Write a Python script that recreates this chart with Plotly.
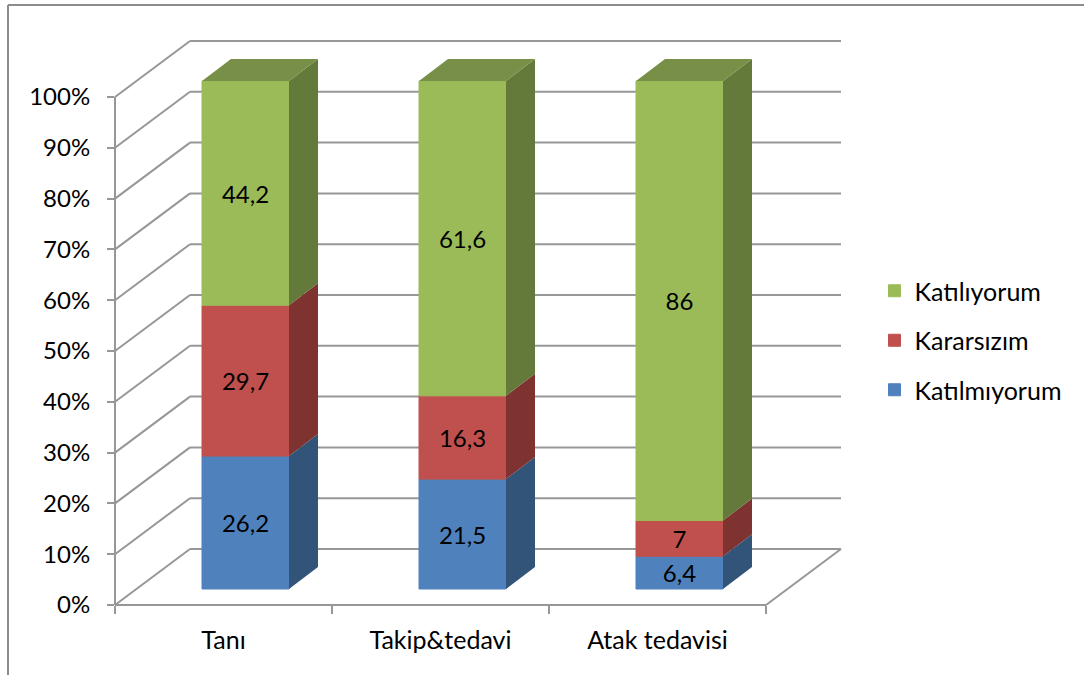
import plotly.graph_objects as go

categories = ["Tanı", "Takip&tedavi", "Atak tedavisi"]
katilmiyorum = [26.2, 21.5, 6.4]
kararsizim = [29.7, 16.3, 7]
katiliyorum = [44.2, 61.6, 86]
series_names = ["Katılmıyorum", "Kararsızım", "Katılıyorum"]
percent_ticks = list(range(0, 101, 10))

series_values = [katilmiyorum, kararsizim, katiliyorum]
front_colors = ["#4F81BD", "#C0504D", "#9BBB59"]
side_colors = ["#335479", "#7E3331", "#647A3A"]
top_color = "#778F46"
grid_color = "#979797"
font_family = "Lato"
font_size = 24
word_font_size = 25

W, H = 1084, 675
PX_PER_CAT = 217.0      # horizontal pixels for one category band
PX_PER_PCT = 5.08       # vertical pixels for one percent
LEFT, RIGHT, BOTTOM, TOP = 115, 841, 605, 42

# Oblique projection: walls recede by this offset, in data units.
wall_dx = 75 / PX_PER_CAT
wall_dy = 56 / PX_PER_PCT
# Bars sit part way into the floor and have their own depth.
bar_shift_x = 22 / PX_PER_CAT
bar_shift_y = 16 / PX_PER_PCT
bar_dx = 29 / PX_PER_CAT
bar_dy = 22 / PX_PER_PCT
bar_width = 87 / PX_PER_CAT

x_min = -0.5
x_max = x_min + (RIGHT - LEFT) / PX_PER_CAT
y_max = (BOTTOM - TOP) / PX_PER_PCT
x_wall_end = x_min + len(categories)

fig = go.Figure()

# Stack each column to 100 % and keep the running bases for the 3D faces.
totals = [sum(s[i] for s in series_values) for i in range(len(categories))]
bases = [0.0] * len(categories)
for k, values in enumerate(series_values):
    shares = [v / t * 100 for v, t in zip(values, totals)]
    centers = [i + bar_shift_x for i in range(len(categories))]
    fig.add_trace(go.Bar(
        x=centers,
        y=shares,
        base=[b + bar_shift_y for b in bases],
        width=bar_width,
        name=series_names[k],
        marker=dict(color=front_colors[k], line=dict(color=front_colors[k], width=1)),
        text=[str(v).replace(".", ",") for v in values],
        textposition="inside",
        insidetextanchor="middle",
        textangle=0,
        constraintext="none",
        textfont=dict(family=font_family, size=font_size, color="black"),
        legendrank=100 - k,
        legendgroup=series_names[k],
    ))

    # Right-hand side face of each segment.
    sx, sy = [], []
    for i, c in enumerate(centers):
        xr = c + bar_width / 2
        y0 = bases[i] + bar_shift_y
        y1 = y0 + shares[i]
        sx += [xr, xr + bar_dx, xr + bar_dx, xr, xr, None]
        sy += [y0, y0 + bar_dy, y1 + bar_dy, y1, y0, None]
    fig.add_trace(go.Scatter(
        x=sx, y=sy, mode="lines", fill="toself", fillcolor=side_colors[k],
        line=dict(width=0), showlegend=False, hoverinfo="skip",
    ))
    bases = [b + s for b, s in zip(bases, shares)]

# Top face of the stack.
tx, ty = [], []
for i in range(len(categories)):
    xl = i + bar_shift_x - bar_width / 2
    xr = xl + bar_width
    y0 = bases[i] + bar_shift_y
    tx += [xl, xr, xr + bar_dx, xl + bar_dx, xl, None]
    ty += [y0, y0, y0 + bar_dy, y0 + bar_dy, y0, None]
fig.add_trace(go.Scatter(
    x=tx, y=ty, mode="lines", fill="toself", fillcolor=top_color,
    line=dict(width=0), showlegend=False, hoverinfo="skip",
))


def wall_line(x0, y0, x1, y1):
    # Domain references keep lines on the plot edge from being clipped in half.
    fx = lambda v: (v - x_min) / (x_max - x_min)
    fy = lambda v: v / y_max
    return dict(type="line", xref="x domain", yref="y domain",
                x0=fx(x0), y0=fy(y0), x1=fx(x1), y1=fy(y1),
                layer="below", line=dict(color=grid_color, width=2))


shapes = []
# Gridlines: diagonal on the side wall, horizontal on the back wall.
for p in percent_ticks:
    shapes.append(wall_line(x_min, p, x_min + wall_dx, p + wall_dy))
    shapes.append(wall_line(x_min + wall_dx, p + wall_dy, x_wall_end + wall_dx, p + wall_dy))
# Front axis edges and the right floor edge.
shapes.append(wall_line(x_min, 0, x_min, 100))
shapes.append(wall_line(x_min, 0, x_wall_end, 0))
shapes.append(wall_line(x_wall_end, 0, x_wall_end + wall_dx, wall_dy))
# Chart frame along the left and top edges.
for x0, y0, x1, y1 in [(8 / W, 0, 8 / W, 1 - 5 / H), (8 / W, 1 - 5 / H, 1, 1 - 5 / H)]:
    shapes.append(dict(type="line", xref="paper", yref="paper", x0=x0, y0=y0, x1=x1, y1=y1,
                       layer="below", line=dict(color="#8C8C8C", width=2)))

fig.update_layout(
    width=W,
    height=H,
    margin=dict(l=0, r=0, t=0, b=0),
    paper_bgcolor="white",
    plot_bgcolor="rgba(0,0,0,0)",
    barmode="overlay",
    shapes=shapes,
    font=dict(family=font_family, size=font_size, color="black"),
    legend=dict(
        x=874.5 / W, y=1 - 340.5 / H, xanchor="left", yanchor="middle",
        tracegroupgap=14,
        font=dict(size=word_font_size, family=font_family),
        bgcolor="rgba(0,0,0,0)",
    ),
    xaxis=dict(
        domain=[LEFT / W, RIGHT / W],
        range=[x_min, x_max],
        automargin=False,
        tickmode="array",
        tickvals=list(range(len(categories))),
        ticktext=categories,
        ticks="",
        showgrid=False,
        zeroline=False,
        showline=False,
        ticklabelstandoff=18,
        minor=dict(
            tickmode="array",
            tickvals=[x_min + i for i in range(len(categories) + 1)],
            ticks="outside", ticklen=8, tickwidth=2, tickcolor=grid_color, showgrid=False,
        ),
        tickfont=dict(size=word_font_size, family=font_family),
    ),
    yaxis=dict(
        domain=[1 - BOTTOM / H, 1 - TOP / H],
        range=[0, y_max],
        automargin=False,
        tickmode="array",
        tickvals=percent_ticks,
        ticktext=[f"{p}%" for p in percent_ticks],
        ticks="outside",
        ticklen=7,
        tickwidth=2,
        tickcolor=grid_color,
        showgrid=False,
        zeroline=False,
        showline=False,
        ticklabelstandoff=12,
        tickfont=dict(size=font_size, family=font_family),
    ),
)

fig.write_html("out.html")
